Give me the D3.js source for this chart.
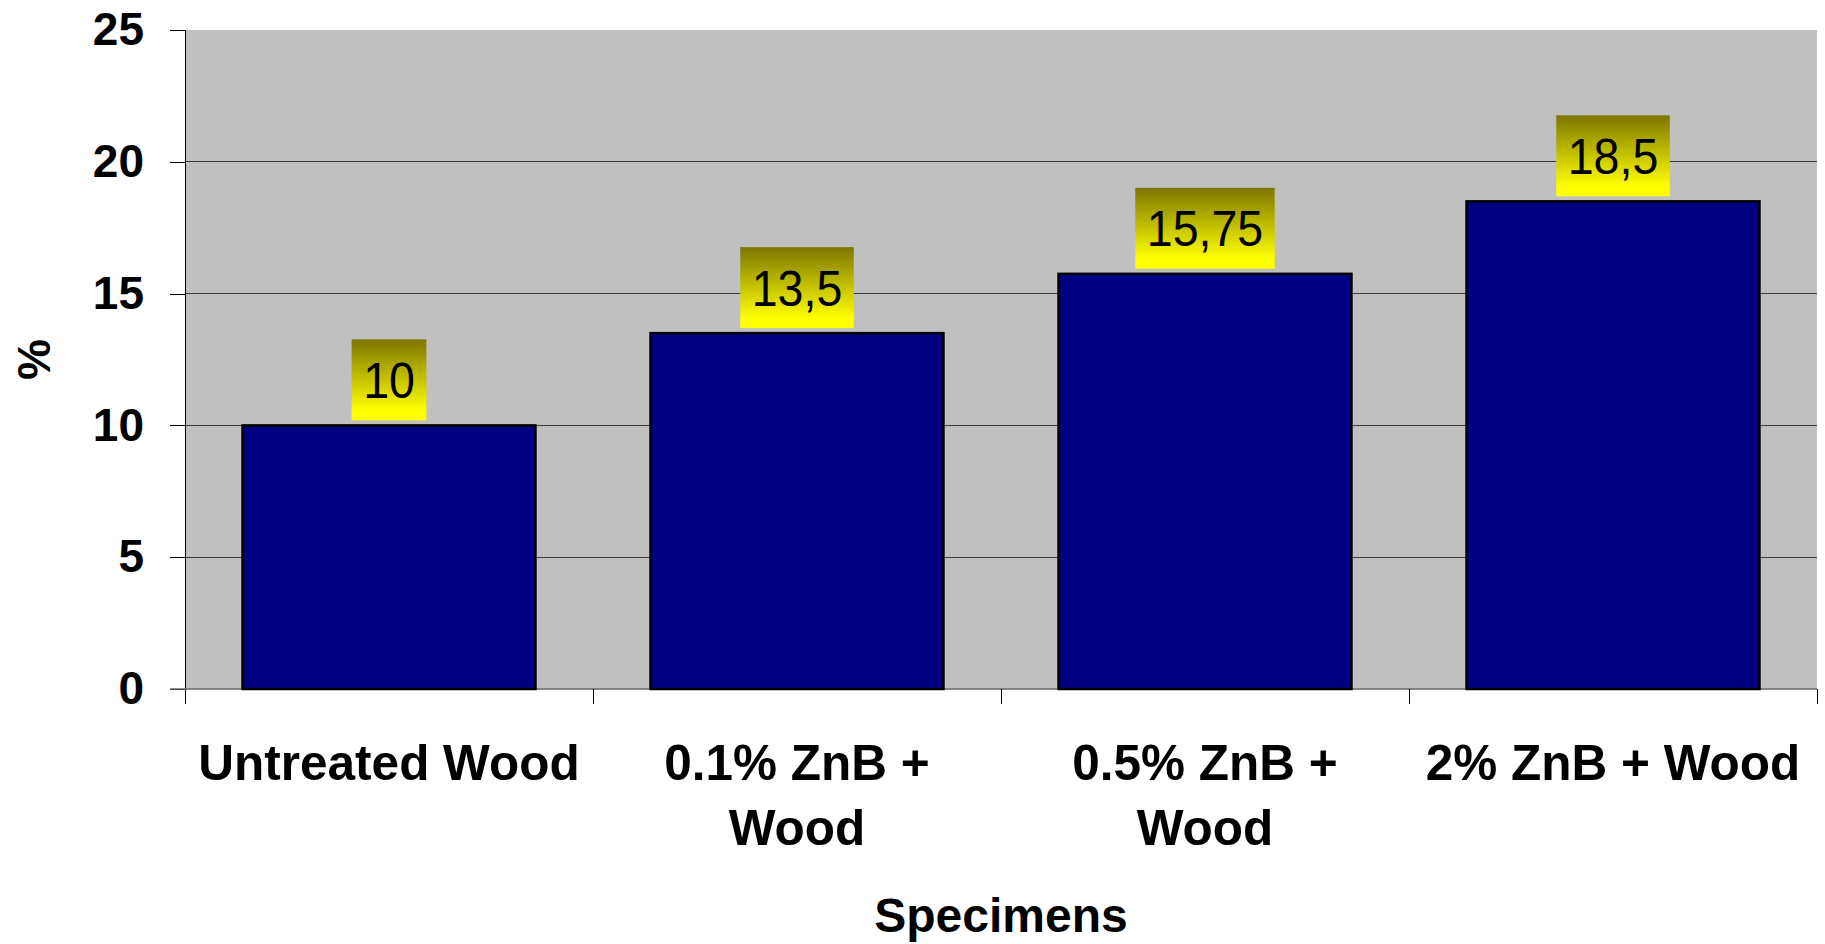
<!DOCTYPE html>
<html>
<head>
<meta charset="utf-8">
<script src="https://cdn.jsdelivr.net/npm/d3@7"></script>
<style>
  html, body { margin: 0; padding: 0; background: #ffffff; }
  svg { display: block; }
  text { font-family: "Liberation Sans", Arial, Helvetica, sans-serif; }
</style>
</head>
<body>
<svg id="chart" width="1825" height="944"></svg>
<script>
// Specimen categories (each entry is a list of label lines)
const categories = [
  ["Untreated Wood"],
  ["0.1% ZnB +", "Wood"],
  ["0.5% ZnB +", "Wood"],
  ["2% ZnB + Wood"]
];
const values = [10, 13.5, 15.75, 18.5];
const yTicks = [0, 5, 10, 15, 20, 25];
const xTitle = "Specimens";
const yTitle = "%";

const W = 1825, H = 944;
const plot = { left: 185, right: 1817, top: 30, bottom: 689 };

const svg = d3.select("#chart");
const keys = categories.map(c => c.join(" "));

const x = d3.scaleBand()
  .domain(keys)
  .range([plot.left, plot.right])
  .paddingInner(0.282)
  .paddingOuter(0.141);

const y = d3.scaleLinear()
  .domain([0, 25])
  .range([plot.bottom, plot.top]);

const comma = d3.formatLocale({ decimal: ",", thousands: ".", grouping: [3], currency: ["", ""] }).format("~f");

// Plot area background
svg.append("rect")
  .attr("x", plot.left).attr("y", plot.top)
  .attr("width", plot.right - plot.left)
  .attr("height", plot.bottom - plot.top)
  .attr("fill", "#c0c0c0");

// Horizontal gridlines
svg.append("g")
  .selectAll("line")
  .data(yTicks.filter(t => t > 0 && t < 25))
  .join("line")
  .attr("x1", plot.left).attr("x2", plot.right)
  .attr("y1", d => y(d)).attr("y2", d => y(d))
  .attr("stroke", "#3a3a3a").attr("stroke-width", 1)
  .attr("shape-rendering", "crispEdges");

// Y axis
const yAxis = svg.append("g")
  .attr("transform", `translate(${plot.left},0)`)
  .call(d3.axisLeft(y).tickValues(yTicks).tickSize(15).tickPadding(26).tickFormat(d3.format("d")));
yAxis.select(".domain").remove();
yAxis.selectAll(".tick line").attr("stroke", "#000").attr("shape-rendering", "crispEdges");
yAxis.selectAll(".tick text")
  .attr("font-size", 46).attr("font-weight", "bold").attr("fill", "#000")
  .attr("font-family", "'Liberation Sans', Arial, sans-serif");
svg.append("line")
  .attr("x1", plot.left).attr("x2", plot.left)
  .attr("y1", plot.top).attr("y2", plot.bottom + 15)
  .attr("stroke", "#000").attr("shape-rendering", "crispEdges");

// X axis baseline and category separators
svg.append("line")
  .attr("x1", plot.left - 15).attr("x2", plot.right)
  .attr("y1", plot.bottom).attr("y2", plot.bottom)
  .attr("stroke", "#6a6a6a").attr("stroke-width", 1.5);
const bounds = keys.map(k => x(k) - x.step() * x.paddingOuter());
bounds.push(plot.right);
svg.append("g")
  .selectAll("line")
  .data(bounds.slice(1))
  .join("line")
  .attr("x1", d => d).attr("x2", d => d)
  .attr("y1", plot.bottom).attr("y2", plot.bottom + 15)
  .attr("stroke", "#000").attr("shape-rendering", "crispEdges");

// Bars
svg.append("g")
  .selectAll("rect")
  .data(values)
  .join("rect")
  .attr("x", (d, i) => x(keys[i]))
  .attr("y", d => y(d))
  .attr("width", x.bandwidth())
  .attr("height", d => y(0) - y(d))
  .attr("fill", "#000080")
  .attr("stroke", "#000").attr("stroke-width", 2.5);

// Gradient for the value callouts
const defs = svg.append("defs");
const grad = defs.append("linearGradient")
  .attr("id", "callout").attr("x1", 0).attr("y1", 0).attr("x2", 0).attr("y2", 1);
grad.append("stop").attr("offset", "0%").attr("stop-color", "#7c7600");
grad.append("stop").attr("offset", "88%").attr("stop-color", "#ffff00");
grad.append("stop").attr("offset", "100%").attr("stop-color", "#ffff00");

// Value callouts above bars
const boxH = 81, gap = 5, squeeze = 0.94;
const labels = svg.append("g")
  .selectAll("g")
  .data(values)
  .join("g");
labels.each(function (d, i) {
  const g = d3.select(this);
  const cx = x(keys[i]) + x.bandwidth() / 2;
  const bottom = y(d) - gap;
  const rect = g.append("rect").attr("fill", "url(#callout)");
  const t = g.append("text")
    .attr("x", 0).attr("y", 0)
    .attr("transform", `translate(${cx},${bottom - 22.5}) scale(${squeeze},1)`)
    .attr("text-anchor", "middle")
    .attr("font-size", 49.5).attr("fill", "#000")
    .text(comma(d));
  const w = t.node().getComputedTextLength() * squeeze + 23;
  rect.attr("x", cx - w / 2).attr("y", bottom - boxH)
    .attr("width", w).attr("height", boxH);
});

// Category labels
svg.append("g")
  .selectAll("text")
  .data(categories)
  .join("text")
  .attr("text-anchor", "middle")
  .attr("font-size", 49.5).attr("font-weight", "bold").attr("fill", "#000")
  .each(function (lines, i) {
    const t = d3.select(this);
    const cx = x(keys[i]) + x.bandwidth() / 2;
    lines.forEach((ln, j) => {
      t.append("tspan").attr("x", cx).attr("y", 780 + j * 65).text(ln);
    });
  });

// Axis titles
svg.append("text")
  .attr("x", (plot.left + plot.right) / 2).attr("y", 932)
  .attr("text-anchor", "middle")
  .attr("font-size", 48).attr("font-weight", "bold")
  .text(xTitle);
svg.append("text")
  .attr("transform", `translate(50,${(plot.top + plot.bottom) / 2}) rotate(-90)`)
  .attr("text-anchor", "middle")
  .attr("font-size", 46).attr("font-weight", "bold")
  .text(yTitle);
</script>
</body>
</html>
